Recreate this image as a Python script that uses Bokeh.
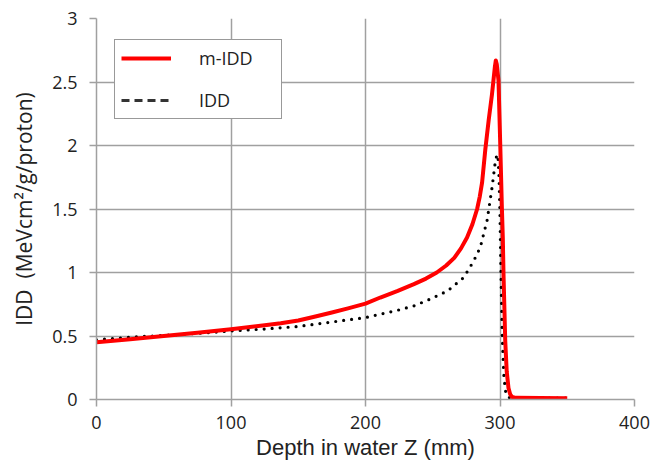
from bokeh.plotting import figure
from bokeh.models import (Legend, LegendItem, FixedTicker, NumeralTickFormatter,
                          ColumnDataSource, Range1d)
from bokeh.embed import file_html
from bokeh.resources import INLINE

# ---- data ----
depth_m = [0, 25, 50, 75, 100, 125, 137, 150, 162, 175, 187, 200, 211, 224, 236, 245,
           253, 260, 266, 271, 275.5, 279.5, 283, 285, 286.7, 289.1, 291.6, 294, 295.2,
           296.2, 296.9, 297.6, 298.9, 300.2, 301.4, 302.1, 302.6, 303.9, 305, 306.3,
           307.6, 309, 312, 330, 350]
midd = [0.45, 0.475, 0.50, 0.525, 0.553, 0.585, 0.60, 0.622, 0.652, 0.685, 0.718, 0.755,
        0.803, 0.855, 0.908, 0.952, 1.0, 1.055, 1.115, 1.19, 1.275, 1.38, 1.5, 1.6, 1.71,
        1.97, 2.2, 2.4, 2.52, 2.62, 2.67, 2.64, 2.51, 2.0, 1.51, 1.27, 0.99, 0.46, 0.22,
        0.09, 0.04, 0.02, 0.013, 0.012, 0.01]

depth_i = [0, 25, 50, 75, 100, 125, 150, 175, 200, 211, 223, 236, 248, 261, 273, 280.4,
           285.4, 290.4, 294.1, 296.6, 297.8, 298.6, 299.3, 300, 300.7, 301.7, 302.8,
           304, 305.5, 308, 330, 354]
idd = [0.47, 0.49, 0.505, 0.52, 0.54, 0.555, 0.575, 0.61, 0.645, 0.672, 0.70, 0.737,
       0.79, 0.855, 0.96, 1.09, 1.2, 1.41, 1.67, 1.88, 1.93, 1.9, 1.75, 1.45, 1.0, 0.5,
       0.2, 0.07, 0.02, 0.012, 0.012, 0.012]

x_ticks = [0, 100, 200, 300, 400]
y_ticks = [0, 0.5, 1, 1.5, 2, 2.5, 3]
series_labels = ["m-IDD", "IDD"]
x_title = "Depth in water Z (mm)"
y_title = "IDD \u00a0(MeVcm²/g/proton)"

GRID = "#a0a0a0"
TXT = "#222222"

p = figure(width=652, height=462, x_range=Range1d(0, 400), y_range=Range1d(0, 3),
           output_backend="svg", toolbar_location=None,
           min_border_left=96, min_border_right=18, min_border_top=18,
           min_border_bottom=63)
p.outline_line_color = None
p.background_fill_color = "white"
p.border_fill_color = "white"

p.xaxis.ticker = FixedTicker(ticks=x_ticks)
p.yaxis.ticker = FixedTicker(ticks=y_ticks)
p.yaxis.formatter = NumeralTickFormatter(format="0.[0]")

for ax in (p.xaxis[0], p.yaxis[0]):
    ax.axis_line_color = GRID
    ax.axis_line_width = 1.5
    ax.major_tick_line_color = GRID
    ax.major_tick_line_width = 1.5
    ax.major_tick_out = 7
    ax.major_tick_in = 0
    ax.minor_tick_line_color = None
    ax.major_label_text_font = "Open Sans"
    ax.major_label_text_font_size = "18px"
    ax.major_label_text_color = TXT
    ax.axis_label_text_font_style = "normal"
    ax.axis_label_text_color = TXT

p.xaxis.axis_label = x_title
p.xaxis.axis_label_text_font = "Liberation Sans"
p.xaxis.axis_label_text_font_size = "22px"
p.xaxis.major_label_standoff = 9
p.xaxis.axis_label_standoff = 3

p.yaxis.axis_label = y_title
p.yaxis.axis_label_text_font = "Open Sans"
p.yaxis.axis_label_text_font_size = "21px"
p.yaxis.major_label_standoff = 12
p.yaxis.axis_label_standoff = 11

p.grid.grid_line_color = GRID
p.grid.grid_line_width = 1.5

src_m = ColumnDataSource(dict(x=depth_m, y=midd))
src_i = ColumnDataSource(dict(x=depth_i, y=idd))

r_idd = p.line("x", "y", source=src_i, line_color="black", line_width=3.2,
               line_dash="0 8", line_cap="round")
r_m = p.line("x", "y", source=src_m, line_color="#ff0000", line_width=4,
             line_join="round")
# the reference's legend shows a dashed sample for IDD: hidden twin used only for it
r_leg = p.line("x", "y", source=src_i, line_color="#333333", line_width=2.8,
               line_dash="8 5", visible=False)

legend = Legend(items=[LegendItem(label=series_labels[0], renderers=[r_m]),
                       LegendItem(label=series_labels[1], renderers=[r_leg])],
                location=(18, 280), margin=0, padding=6, spacing=18,
                glyph_width=50, glyph_height=16, label_height=16,
                label_standoff=28, label_width=76,
                label_text_font="Open Sans", label_text_font_size="18px",
                label_text_color=TXT,
                border_line_color="#333333", border_line_width=1.5,
                background_fill_color="white", background_fill_alpha=1.0)
p.add_layout(legend, "center")

open("out.html", "w").write(file_html(p, INLINE))
